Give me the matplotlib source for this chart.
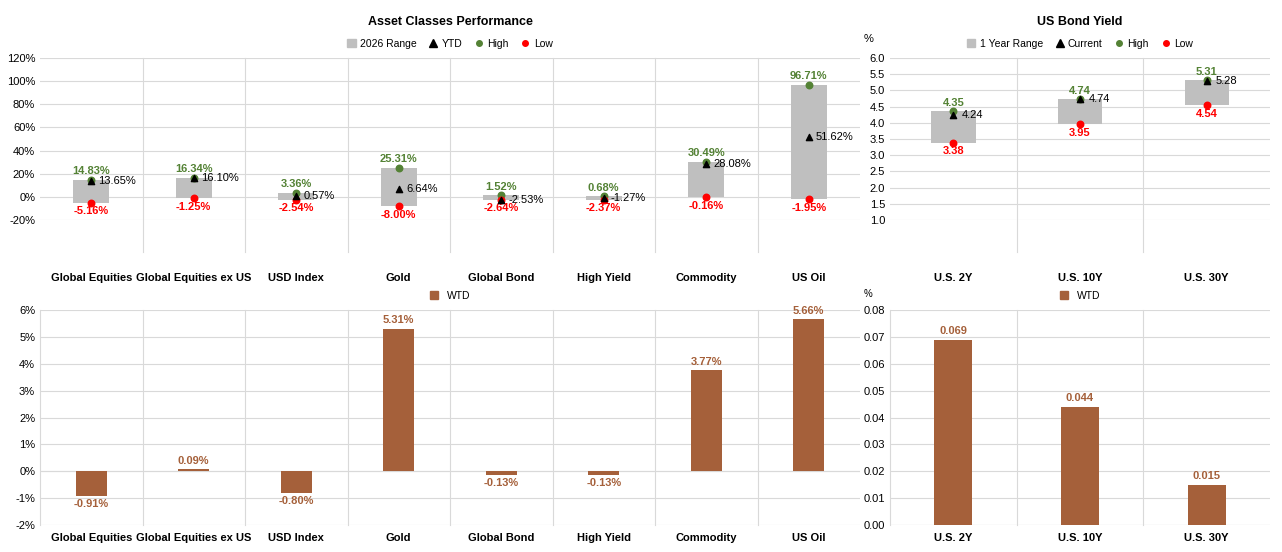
import numpy as np
import matplotlib.pyplot as plt
from matplotlib.lines import Line2D
from matplotlib.patches import Patch

plt.rcParams['font.family'] = ['Liberation Sans', 'DejaVu Sans']
plt.rcParams['font.size'] = 8

assets = ["Global Equities", "Global Equities ex US", "USD Index", "Gold",
          "Global Bond", "High Yield", "Commodity", "US Oil"]
asset_high = [14.83, 16.34, 3.36, 25.31, 1.52, 0.68, 30.49, 96.71]
asset_low = [-5.16, -1.25, -2.54, -8.00, -2.64, -2.37, -0.16, -1.95]
asset_ytd = [13.65, 16.10, 0.57, 6.64, -2.53, -1.27, 28.08, 51.62]
asset_wtd = [-0.91, 0.09, -0.80, 5.31, -0.13, -0.13, 3.77, 5.66]

bonds = ["U.S. 2Y", "U.S. 10Y", "U.S. 30Y"]
bond_high = [4.35, 4.74, 5.31]
bond_low = [3.38, 3.95, 4.54]
bond_cur = [4.24, 4.74, 5.28]
bond_wtd = [0.069, 0.044, 0.015]

GRAY = "#bfbfbf"
GREEN = "#548235"
RED = "#ff0000"
BROWN = "#a5603a"
GRID = "#d9d9d9"

fig = plt.figure(figsize=(12.82, 5.52), dpi=100)
W, H = 1282, 552


def box(x0, y0, x1, y1):
    return [x0 / W, 1 - y1 / H, (x1 - x0) / W, (y1 - y0) / H]


def separators(ax, n, ymin, ymax):
    for i in range(1, n):
        ax.axvline(i - 0.5, ymin=ymin, ymax=ymax, color=GRID, lw=0.8, clip_on=False)


def range_chart(ax, cats, high, low, cur, fmt, off, title, cur_name, ylim, yticks, yfmt, xlab_pad):
    x = np.arange(len(cats))
    ax.bar(x, np.array(high) - np.array(low), bottom=low, width=0.35, color=GRAY, zorder=2)
    ax.scatter(x, high, color=GREEN, s=22, zorder=4)
    ax.scatter(x, low, color=RED, s=22, zorder=4)
    ax.scatter(x, cur, color="black", marker="^", s=20, zorder=5)
    for i in x:
        ax.text(i, high[i] + off, fmt(high[i]), color=GREEN, weight="bold", ha="center", va="bottom", fontsize=8)
        ax.text(i, low[i] - off, fmt(low[i]), color=RED, weight="bold", ha="center", va="top", fontsize=8)
        ax.text(i + 0.07, cur[i], fmt(cur[i]), color="black", ha="left", va="center", fontsize=8)
    ax.set_xlim(-0.5, len(cats) - 0.5)
    ax.set_ylim(*ylim)
    ax.set_yticks(yticks)
    ax.set_yticklabels([yfmt(v) for v in yticks])
    ax.set_xticks(x)
    ax.set_xticklabels(cats, weight="bold")
    ax.tick_params(axis="x", length=0, pad=xlab_pad)
    ax.tick_params(axis="y", length=0)
    for s in ax.spines.values():
        s.set_visible(False)
    ax.grid(axis="y", color=GRID, lw=0.8, zorder=0)
    ax.set_axisbelow(True)
    ax.set_title(title, weight="bold", fontsize=9, pad=24)
    handles = [Patch(color=GRAY), Line2D([], [], marker="^", color="black", ls=""),
               Line2D([], [], marker="o", color=GREEN, ls="", ms=4),
               Line2D([], [], marker="o", color=RED, ls="", ms=4)]
    ax.legend(handles, ["2026 Range" if cur_name == "YTD" else "1 Year Range", cur_name, "High", "Low"],
              loc="lower center", bbox_to_anchor=(0.5, 1.0), ncol=4, frameon=False,
              handlelength=0.8, handletextpad=0.4, columnspacing=1.2, fontsize=7.5)
    separators(ax, len(cats), -0.2, 1.0)


def wtd_chart(ax, cats, vals, fmt, off, ylim, yticks, yfmt):
    x = np.arange(len(cats))
    ax.bar(x, vals, width=0.3, color=BROWN, zorder=2)
    for i, v in enumerate(vals):
        if v >= 0:
            ax.text(i, v + off, fmt(v), color=BROWN, weight="bold", ha="center", va="bottom", fontsize=8)
        else:
            ax.text(i, v - off, fmt(v), color=BROWN, weight="bold", ha="center", va="top", fontsize=8)
    ax.set_xlim(-0.5, len(cats) - 0.5)
    ax.set_ylim(*ylim)
    ax.set_yticks(yticks)
    ax.set_yticklabels([yfmt(v) for v in yticks])
    ax.set_xticks(x)
    ax.set_xticklabels(cats, weight="bold")
    ax.tick_params(axis="x", length=0, pad=6)
    ax.tick_params(axis="y", length=0)
    for s in ["top", "right", "bottom"]:
        ax.spines[s].set_visible(False)
    ax.spines["left"].set_color(GRID)
    ax.axhline(0, color=GRID, lw=0.8, zorder=1)
    ax.grid(axis="y", color=GRID, lw=0.8, zorder=0)
    ax.set_axisbelow(True)
    ax.legend([Patch(color=BROWN)], ["WTD"], loc="lower center", bbox_to_anchor=(0.5, 1.0),
              frameon=False, handlelength=0.8, fontsize=7.5)
    separators(ax, len(cats), 0, 1.0)


pct = lambda v: f"{v:.2f}%"
ax1 = fig.add_axes(box(40, 58, 860, 220))
range_chart(ax1, assets, asset_high, asset_low, asset_ytd, pct, 3, "Asset Classes Performance", "YTD",
            (-20, 120), range(-20, 121, 20), lambda v: f"{v}%", 38)

ax2 = fig.add_axes(box(890, 58, 1270, 220))
range_chart(ax2, bonds, bond_high, bond_low, bond_cur, lambda v: f"{v:.2f}", 0.1, "US Bond Yield", "Current",
            (1.0, 6.0), np.arange(1.0, 6.01, 0.5), lambda v: f"{v:.1f}", 38)
ax2.text(-0.07, 1.1, "%", transform=ax2.transAxes, fontsize=8)

ax3 = fig.add_axes(box(40, 310, 860, 525))
wtd_chart(ax3, assets, asset_wtd, pct, 0.12, (-2, 6), range(-2, 7), lambda v: f"{v}%")

ax4 = fig.add_axes(box(890, 310, 1270, 525))
wtd_chart(ax4, bonds, bond_wtd, lambda v: f"{v:.3f}", 0.0015, (0, 0.08), np.arange(0, 0.081, 0.01),
          lambda v: f"{v:.2f}")
ax4.text(-0.07, 1.06, "%", transform=ax4.transAxes, fontsize=7)

fig.savefig("out.png", dpi=100)
